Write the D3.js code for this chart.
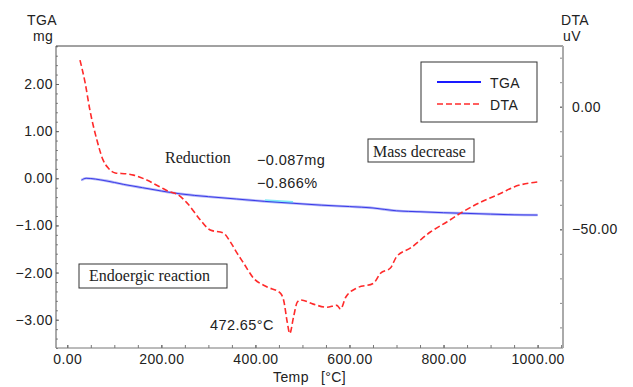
<!DOCTYPE html>
<html>
<head>
<meta charset="utf-8">
<script src="https://cdn.jsdelivr.net/npm/d3@7"></script>
<style>
  body { margin: 0; background: #fff; }
  text { font-family: "Liberation Sans", Arial, sans-serif; fill: #222; letter-spacing: 0.4px; }
  .serif { font-family: "Liberation Serif", "Times New Roman", serif; letter-spacing: 0; }
</style>
</head>
<body>
<div class="chart"></div>
<script>
// TGA curve (temp in C, mass in mg)
var tgaTemp = [30, 40, 80, 120, 160, 200, 240, 300, 360, 420, 480, 540, 600, 650, 700, 750, 800, 850, 900, 950, 1000];
var tgaVal = [-0.04, 0.0, -0.05, -0.13, -0.20, -0.27, -0.33, -0.39, -0.44, -0.49, -0.53, -0.57, -0.60, -0.63, -0.69, -0.71, -0.73, -0.745, -0.76, -0.775, -0.78];

// DTA curve (temp in C, uV)
var dtaTemp = [27, 38, 48, 63, 76, 87, 102, 127, 141, 169, 197, 219, 233, 255, 283, 304, 332, 347, 361, 375, 396, 425, 453, 460, 468, 473, 481, 489, 496, 523, 552, 573, 581, 592, 615, 651, 666, 687, 700, 730, 772, 807, 837, 879, 922, 950, 1000];
var dtaVal = [19.0, 9.7, -1.3, -13.6, -21.7, -25, -27, -27.4, -27.9, -29.9, -32.7, -34.8, -35.6, -39.3, -46.2, -50.3, -51.5, -55.2, -59.7, -63.8, -69.9, -73.5, -76.0, -78.9, -88.2, -92.5, -85.8, -79.7, -78.8, -80.5, -81.8, -81, -82.5, -77.7, -74, -72, -67.9, -65.8, -61.2, -57.6, -51.1, -47, -43.3, -38.9, -35.3, -32.7, -30.7];

// tick labels
var xTicks = [0, 200, 400, 600, 800, 1000];
var yLeftTicks = [2, 1, 0, -1, -2, -3];
var yRightTicks = [0, -50];
var highlightRange = [405, 500];

var svgWidth = 633;
var svgHeight = 387;
var plot = { left: 56, right: 563, top: 46, bottom: 348 };

var svg = d3.select(".chart")
  .append("svg")
  .attr("width", svgWidth)
  .attr("height", svgHeight);

var x = d3.scaleLinear().domain([-24, 1054]).range([plot.left, plot.right]);
var yL = d3.scaleLinear().domain([-3.60, 2.806]).range([plot.bottom, plot.top]);
var yR = d3.scaleLinear().domain([-98.4, 24.76]).range([plot.bottom, plot.top]);

var fmt = function(d) { return d3.format(".2f")(d); };

// minor ticks
svg.append("g")
  .attr("transform", `translate(${plot.left},0)`)
  .call(d3.axisLeft(yL).tickValues(d3.range(-3.6, 2.81, 0.2)).tickSize(-2).tickFormat(""))
  .call(g => g.select(".domain").remove())
  .selectAll("line").attr("stroke", "#888");

svg.append("g")
  .attr("transform", `translate(0,${plot.bottom})`)
  .call(d3.axisBottom(x).tickValues(d3.range(0, 1051, 50)).tickSize(-3).tickFormat(""))
  .call(g => g.select(".domain").remove())
  .selectAll("line").attr("stroke", "#777");

svg.append("g")
  .attr("transform", `translate(${plot.right},0)`)
  .call(d3.axisRight(yR).tickValues(d3.range(-90, 21, 10)).tickSize(-3).tickFormat(""))
  .call(g => g.select(".domain").remove())
  .selectAll("line").attr("stroke", "#888");

// labelled axes
var leftAxis = svg.append("g")
  .attr("transform", `translate(${plot.left},0)`)
  .call(d3.axisLeft(yL).tickValues(yLeftTicks).tickSize(-3).tickPadding(3).tickFormat(fmt));
var bottomAxis = svg.append("g")
  .attr("transform", `translate(0,${plot.bottom})`)
  .call(d3.axisBottom(x).tickValues(xTicks).tickSize(-3).tickPadding(6).tickFormat(fmt));
var rightAxis = svg.append("g")
  .attr("transform", `translate(${plot.right},0)`)
  .call(d3.axisRight(yR).tickValues(yRightTicks).tickSize(-3).tickPadding(9).tickFormat(fmt));

[leftAxis, bottomAxis, rightAxis].forEach(function(g) {
  g.selectAll(".domain").remove();
  g.selectAll("line").attr("stroke", "#666");
  g.selectAll("text").style("font-size", "14px").attr("fill", "#222")
    .style("font-family", "'Liberation Sans', Arial, sans-serif");
});

// frame lines
svg.append("line").attr("x1", plot.left).attr("x2", plot.right).attr("y1", plot.top).attr("y2", plot.top)
  .attr("stroke", "#444").attr("stroke-width", 1);
svg.append("line").attr("x1", plot.left).attr("x2", plot.left).attr("y1", plot.top).attr("y2", plot.bottom)
  .attr("stroke", "#555").attr("stroke-width", 1);
svg.append("line").attr("x1", plot.left).attr("x2", plot.right).attr("y1", plot.bottom).attr("y2", plot.bottom)
  .attr("stroke", "#777").attr("stroke-width", 1);
svg.append("line").attr("x1", plot.right).attr("x2", plot.right).attr("y1", plot.top).attr("y2", plot.bottom)
  .attr("stroke", "#aaa").attr("stroke-width", 2);

// data
var tgaData = tgaTemp.map((t, i) => ({ t: t, v: tgaVal[i] }));
var dtaData = dtaTemp.map((t, i) => ({ t: t, v: dtaVal[i] }));

var tgaLine = d3.line().x(d => x(d.t)).y(d => yL(d.v)).curve(d3.curveMonotoneX);
var dtaLine = d3.line().x(d => x(d.t)).y(d => yR(d.v)).curve(d3.curveMonotoneX);

svg.append("path").datum(tgaData)
  .attr("d", tgaLine)
  .attr("fill", "none").attr("stroke", "#b4b8f8").attr("stroke-width", 2.6);
svg.append("path").datum(tgaData.filter(d => d.t >= highlightRange[0] && d.t <= highlightRange[1]))
  .attr("d", tgaLine)
  .attr("transform", "translate(0,-1)")
  .attr("fill", "none").attr("stroke", "#7fe9f5").attr("stroke-width", 2.5);
svg.append("path").datum(tgaData)
  .attr("d", tgaLine)
  .attr("fill", "none").attr("stroke", "#3a3ae8").attr("stroke-width", 1);

svg.append("path").datum(dtaData)
  .attr("d", dtaLine)
  .attr("fill", "none").attr("stroke", "#ff2a2a").attr("stroke-width", 1.6)
  .attr("stroke-dasharray", "6,3");

// legend
var legend = svg.append("g");
legend.append("rect").attr("x", 421).attr("y", 62).attr("width", 116).attr("height", 60)
  .attr("fill", "#fff").attr("stroke", "#333");
legend.append("line").attr("x1", 437).attr("x2", 481).attr("y1", 82).attr("y2", 82)
  .attr("stroke", "#1a1aff").attr("stroke-width", 2);
legend.append("line").attr("x1", 437).attr("x2", 481).attr("y1", 104).attr("y2", 104)
  .attr("stroke", "#ff2a2a").attr("stroke-width", 1.6).attr("stroke-dasharray", "6,3");
legend.append("text").attr("x", 490).attr("y", 88).style("font-size", "14px").text("TGA");
legend.append("text").attr("x", 490).attr("y", 110).style("font-size", "14px").text("DTA");

// axis titles
svg.append("text").attr("x", 42).attr("y", 25).attr("text-anchor", "middle").style("font-size", "14px").text("TGA");
svg.append("text").attr("x", 43).attr("y", 41).attr("text-anchor", "middle").style("font-size", "14px").text("mg");
svg.append("text").attr("x", 575).attr("y", 25).attr("text-anchor", "middle").style("font-size", "14px").text("DTA");
svg.append("text").attr("x", 572).attr("y", 41).attr("text-anchor", "middle").style("font-size", "14px").text("uV");
svg.append("text").attr("x", 273).attr("y", 382).style("font-size", "14px").text("Temp");
svg.append("text").attr("x", 321).attr("y", 382).style("font-size", "14px").text("[°C]");

// annotations
svg.append("text").attr("class", "serif").attr("x", 165).attr("y", 163).style("font-size", "16px").text("Reduction");
svg.append("text").attr("x", 257).attr("y", 165).style("font-size", "14.5px").text("−0.087mg");
svg.append("text").attr("x", 257).attr("y", 188).style("font-size", "14.5px").text("−0.866%");

svg.append("rect").attr("x", 368).attr("y", 139).attr("width", 106).attr("height", 23)
  .attr("fill", "#fff").attr("stroke", "#333");
svg.append("text").attr("class", "serif").attr("x", 373).attr("y", 157).style("font-size", "16px").text("Mass decrease");

svg.append("rect").attr("x", 79).attr("y", 264).attr("width", 148).attr("height", 24)
  .attr("fill", "#fff").attr("stroke", "#333");
svg.append("text").attr("class", "serif").attr("x", 89).attr("y", 281).style("font-size", "16px").text("Endoergic reaction");

svg.append("text").attr("x", 210).attr("y", 330).style("font-size", "14.5px").text("472.65°C");
</script>
</body>
</html>
